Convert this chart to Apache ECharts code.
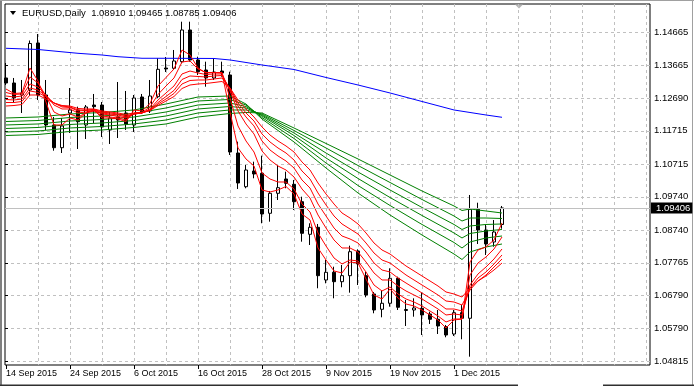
<!DOCTYPE html>
<html><head><meta charset="utf-8">
<script src="https://cdn.jsdelivr.net/npm/echarts@6/dist/echarts.min.js"></script>
<style>html,body{margin:0;padding:0;background:#fff}#c{width:694px;height:386px}</style>
</head><body><div id="c"></div>
<script>
const dates = ['14 Sep 2015','15 Sep 2015','16 Sep 2015','17 Sep 2015','18 Sep 2015','21 Sep 2015','22 Sep 2015','23 Sep 2015','24 Sep 2015','25 Sep 2015','28 Sep 2015','29 Sep 2015','30 Sep 2015','1 Oct 2015','2 Oct 2015','5 Oct 2015','6 Oct 2015','7 Oct 2015','8 Oct 2015','9 Oct 2015','12 Oct 2015','13 Oct 2015','14 Oct 2015','15 Oct 2015','16 Oct 2015','19 Oct 2015','20 Oct 2015','21 Oct 2015','22 Oct 2015','23 Oct 2015','26 Oct 2015','27 Oct 2015','28 Oct 2015','29 Oct 2015','30 Oct 2015','2 Nov 2015','3 Nov 2015','4 Nov 2015','5 Nov 2015','6 Nov 2015','9 Nov 2015','10 Nov 2015','11 Nov 2015','12 Nov 2015','13 Nov 2015','16 Nov 2015','17 Nov 2015','18 Nov 2015','19 Nov 2015','20 Nov 2015','23 Nov 2015','24 Nov 2015','25 Nov 2015','26 Nov 2015','27 Nov 2015','30 Nov 2015','1 Dec 2015','2 Dec 2015','3 Dec 2015','4 Dec 2015','7 Dec 2015','8 Dec 2015','9 Dec 2015'];
const opens = [1.13297,1.13147,1.12788,1.12938,1.14345,1.12788,1.11890,1.11210,1.12249,1.12339,1.11890,1.12488,1.12488,1.11740,1.12129,1.12249,1.11890,1.12728,1.12309,1.12737,1.13596,1.13587,1.13785,1.14734,1.13836,1.13536,1.13297,1.13506,1.13387,1.11051,1.10042,1.10512,1.10444,1.09246,1.09845,1.10273,1.10114,1.09593,1.08617,1.08827,1.07249,1.07480,1.07198,1.07378,1.08117,1.07378,1.06830,1.06372,1.06552,1.07300,1.06336,1.06351,1.06402,1.06231,1.06073,1.05851,1.05632,1.06270,1.06103,1.09366,1.08746,1.08387,1.08910];
const closes = [1.13147,1.12698,1.12848,1.14330,1.12788,1.11890,1.11210,1.11860,1.12339,1.11988,1.12429,1.12438,1.11830,1.12099,1.12039,1.11920,1.12698,1.12279,1.12758,1.13557,1.13566,1.13806,1.14734,1.13836,1.13485,1.13297,1.13476,1.13447,1.11081,1.10153,1.10542,1.10423,1.09225,1.09845,1.10013,1.10144,1.09593,1.08647,1.08827,1.07378,1.07480,1.07198,1.07378,1.08096,1.07728,1.06800,1.06351,1.06552,1.07300,1.06432,1.06366,1.06411,1.06201,1.06073,1.05872,1.05602,1.06270,1.06103,1.09366,1.08746,1.08327,1.08686,1.09406];
const lows = [1.13087,1.12578,1.12249,1.12758,1.12638,1.11740,1.11120,1.11051,1.11650,1.11171,1.11471,1.11950,1.11530,1.11321,1.11500,1.11740,1.11680,1.12219,1.12249,1.12698,1.13476,1.13536,1.13737,1.13785,1.13387,1.13036,1.13237,1.13336,1.10992,1.09974,1.09995,1.10294,1.08947,1.08995,1.09644,1.09995,1.09345,1.08396,1.08297,1.07001,1.07150,1.06701,1.07031,1.06869,1.07099,1.06731,1.06252,1.06132,1.06450,1.06351,1.05872,1.06150,1.05602,1.05932,1.05632,1.05534,1.05573,1.05474,1.04953,1.08327,1.07998,1.08246,1.08785];
const highs = [1.13746,1.13297,1.13237,1.14419,1.14614,1.13237,1.12129,1.12099,1.12997,1.12438,1.12488,1.12818,1.12578,1.12279,1.13177,1.12908,1.12788,1.12818,1.13237,1.13887,1.13925,1.14135,1.14982,1.14982,1.13934,1.13785,1.13887,1.13785,1.13485,1.11390,1.10692,1.10791,1.10971,1.09914,1.10692,1.10492,1.10243,1.09743,1.08947,1.08926,1.07848,1.07647,1.07698,1.08276,1.08168,1.07498,1.06890,1.06929,1.07599,1.07348,1.06650,1.06701,1.06869,1.06300,1.06351,1.05902,1.06351,1.06501,1.09794,1.09563,1.08896,1.09045,1.09465];

// short-term EMAs (red), one value per bar
const ema3 = [1.12967,1.12833,1.12848,1.13596,1.13207,1.12578,1.11890,1.11890,1.12099,1.12039,1.12249,1.12339,1.12099,1.12099,1.12069,1.11994,1.12339,1.12309,1.12533,1.13057,1.13312,1.13566,1.14135,1.13985,1.13596,1.13446,1.13461,1.13446,1.12279,1.11201,1.10872,1.10662,1.09944,1.09884,1.09944,1.10048,1.09824,1.09225,1.09045,1.08207,1.07848,1.07519,1.07459,1.07788,1.07758,1.07279,1.06800,1.06680,1.06980,1.06710,1.06531,1.06471,1.06351,1.06201,1.06052,1.05812,1.06052,1.06081,1.07788,1.08147,1.08237,1.08447,1.08956];
const ema5 = [1.12863,1.12803,1.12818,1.13327,1.13147,1.12758,1.12279,1.12159,1.12219,1.12129,1.12249,1.12309,1.12159,1.12129,1.12099,1.12039,1.12249,1.12264,1.12429,1.12803,1.13057,1.13297,1.13776,1.13806,1.13566,1.13461,1.13461,1.13461,1.12698,1.11860,1.11411,1.11081,1.10453,1.10273,1.10183,1.10183,1.09974,1.09524,1.09285,1.08656,1.08267,1.07908,1.07728,1.07848,1.07818,1.07489,1.07099,1.06920,1.07040,1.06830,1.06680,1.06590,1.06471,1.06321,1.06171,1.05992,1.06081,1.06081,1.07399,1.07758,1.07938,1.08177,1.08536];
const ema8 = [1.12758,1.12728,1.12758,1.13117,1.13027,1.12788,1.12488,1.12369,1.12369,1.12249,1.12279,1.12324,1.12219,1.12189,1.12144,1.12099,1.12219,1.12249,1.12369,1.12638,1.12848,1.13057,1.13417,1.13506,1.13446,1.13402,1.13417,1.13417,1.12908,1.12309,1.11920,1.11620,1.11111,1.10842,1.10662,1.10542,1.10333,1.09974,1.09704,1.09195,1.08806,1.08447,1.08207,1.08207,1.08087,1.07788,1.07459,1.07249,1.07249,1.07069,1.06920,1.06800,1.06680,1.06531,1.06381,1.06201,1.06231,1.06201,1.07099,1.07429,1.07638,1.07878,1.08177];
const ema10 = [1.12653,1.12638,1.12668,1.12997,1.12937,1.12758,1.12548,1.12429,1.12414,1.12309,1.12324,1.12339,1.12249,1.12219,1.12189,1.12129,1.12219,1.12249,1.12339,1.12563,1.12743,1.12923,1.13252,1.13357,1.13342,1.13327,1.13357,1.13372,1.12967,1.12458,1.12129,1.11860,1.11411,1.11141,1.10962,1.10812,1.10602,1.10243,1.10003,1.09524,1.09165,1.08806,1.08566,1.08477,1.08357,1.08087,1.07758,1.07548,1.07489,1.07309,1.07159,1.07010,1.06860,1.06710,1.06560,1.06381,1.06381,1.06321,1.07010,1.07309,1.07489,1.07728,1.07998];
const ema12 = [1.12563,1.12563,1.12593,1.12908,1.12863,1.12728,1.12548,1.12458,1.12429,1.12339,1.12339,1.12354,1.12279,1.12249,1.12219,1.12159,1.12219,1.12249,1.12324,1.12518,1.12668,1.12833,1.13117,1.13222,1.13237,1.13237,1.13267,1.13297,1.12997,1.12548,1.12249,1.12009,1.11620,1.11381,1.11201,1.11051,1.10842,1.10512,1.10273,1.09854,1.09495,1.09165,1.08926,1.08776,1.08626,1.08357,1.08057,1.07848,1.07758,1.07578,1.07399,1.07249,1.07099,1.06950,1.06800,1.06620,1.06590,1.06501,1.06950,1.07219,1.07399,1.07638,1.07878];
const ema15 = [1.12458,1.12473,1.12503,1.12788,1.12788,1.12668,1.12548,1.12473,1.12458,1.12384,1.12369,1.12369,1.12309,1.12279,1.12249,1.12204,1.12249,1.12264,1.12324,1.12473,1.12608,1.12743,1.12982,1.13087,1.13117,1.13132,1.13162,1.13192,1.12997,1.12638,1.12369,1.12129,1.11830,1.11590,1.11411,1.11261,1.11081,1.10782,1.10542,1.10153,1.09824,1.09524,1.09255,1.09105,1.08926,1.08656,1.08357,1.08147,1.08027,1.07848,1.07668,1.07519,1.07369,1.07219,1.07069,1.06890,1.06830,1.06740,1.07010,1.07219,1.07369,1.07549,1.07758];

// long-term EMAs (green), read at these bars
const longIdx = [0,4,8,12,16,20,24,28,30,32,36,40,44,48,52,56,57,58,60,62];
const ema30 = [1.12099,1.12129,1.12219,1.12264,1.12339,1.12518,1.12728,1.12758,1.12518,1.12069,1.11381,1.10602,1.09854,1.09195,1.08596,1.08027,1.07863,1.08087,1.08237,1.08327];
const ema35 = [1.11994,1.12024,1.12114,1.12159,1.12234,1.12399,1.12608,1.12653,1.12488,1.12114,1.11485,1.10752,1.10078,1.09480,1.08911,1.08372,1.08207,1.08387,1.08507,1.08566];
const ema40 = [1.11890,1.11920,1.12009,1.12054,1.12129,1.12279,1.12488,1.12548,1.12443,1.12159,1.11575,1.10902,1.10288,1.09719,1.09180,1.08656,1.08507,1.08641,1.08716,1.08761];
const ema45 = [1.11785,1.11815,1.11905,1.11950,1.12024,1.12159,1.12369,1.12443,1.12399,1.12189,1.11650,1.11051,1.10482,1.09944,1.09420,1.08911,1.08761,1.08866,1.08911,1.08926];
const ema50 = [1.11680,1.11710,1.11800,1.11845,1.11920,1.12039,1.12249,1.12339,1.12339,1.12219,1.11725,1.11201,1.10677,1.10168,1.09659,1.09165,1.09015,1.09105,1.09105,1.09090];
const ema60 = [1.11575,1.11605,1.11695,1.11740,1.11815,1.11920,1.12129,1.12234,1.12264,1.12249,1.11800,1.11336,1.10872,1.10393,1.09914,1.09465,1.09330,1.09375,1.09315,1.09255];

// slow moving average (blue), read at these bars
const slowIdx = [0,4,7,9,12,14,17,20,26,28,32,36,40,44,48,52,56,60,62];
const slowMA = [1.14186,1.14150,1.14081,1.14036,1.13985,1.13934,1.13887,1.13887,1.13881,1.13836,1.13686,1.13551,1.13312,1.13087,1.12848,1.12593,1.12339,1.12189,1.12120];

const yTickLabels = ['1.14665','1.13665','1.12690','1.11715','1.10715','1.09740','1.08740','1.07765','1.06790','1.05790','1.04815'];
const yMin = 1.04704, yMax = 1.15512;

const FONT = '"Liberation Sans", Arial, sans-serif';
const n = dates.length;
const last = n - 1;
const cats = dates.concat(Array.from({length: 18}, (_, k) => '_pad' + k));
const ohlc = dates.map((d, i) => [opens[i], closes[i], lows[i], highs[i]]);
const yTickVals = yTickLabels.map(Number);
const pairs = (idx, vals) => idx.map((k, j) => [k, vals[j]]);
const labelEvery = (i) => i % 8 === 0 && i < n;
const gridEvery = (i) => i % 4 === 0 && i > 0;
const titleText = 'EURUSD,Daily  ' + [opens[last], highs[last], lows[last], closes[last]].map(v => v.toFixed(5)).join(' ');

const line = (data, color) => ({
  type: 'line', data, xAxisIndex: 0, yAxisIndex: 0, symbol: 'none', showSymbol: false,
  connectNulls: true, silent: true, z: 3, clip: false,
  lineStyle: {color, width: 1}
});

const chart = echarts.init(document.getElementById('c'), null, {renderer: 'canvas'});
chart.setOption({
  animation: false,
  backgroundColor: '#fff',
  title: {text: titleText, left: 22, top: 8, padding: 0,
    textStyle: {fontFamily: FONT, fontSize: 9.5, fontWeight: 'normal', color: '#000'}},
  grid: [
    {left: 6, right: 48, top: 4, bottom: 21, show: false},
    {left: 5, right: 44, top: 4, bottom: 21, show: true, borderColor: '#000', borderWidth: 1, backgroundColor: 'transparent'}
  ],
  xAxis: [
    {type: 'category', gridIndex: 0, data: cats, boundaryGap: false,
     axisLine: {show: false},
     axisTick: {show: true, interval: labelEvery, length: 4, lineStyle: {color: '#000'}},
     axisLabel: {show: true, interval: labelEvery, align: 'left', margin: 4, fontSize: 9, fontFamily: FONT, color: '#000'},
     splitLine: {show: true, interval: gridEvery, lineStyle: {color: '#c0c0c0', type: [3, 3], width: 1}}},
    {type: 'value', gridIndex: 1, min: 0, max: 1, show: false}
  ],
  yAxis: [
    {type: 'value', gridIndex: 0, min: yMin, max: yMax, show: false},
    {type: 'value', gridIndex: 1, position: 'right', min: yMin, max: yMax,
     axisLine: {show: false},
     axisTick: {show: true, customValues: yTickVals, length: 3, lineStyle: {color: '#000'}},
     axisLabel: {show: true, customValues: yTickVals, formatter: (v) => v.toFixed(5), margin: 4, fontSize: 9.5, fontFamily: FONT, color: '#000'},
     splitLine: {show: true, lineStyle: {color: '#c0c0c0', type: [3, 3], width: 1}}}
  ],
  series: [
    {type: 'candlestick', data: ohlc, xAxisIndex: 0, yAxisIndex: 0, barWidth: 4, clip: false, silent: true, z: 2,
     itemStyle: {color: '#fff', color0: '#000', borderColor: '#000', borderColor0: '#000', borderWidth: 1}},
    line(pairs(slowIdx, slowMA), '#0000ff'),
    line(pairs(longIdx, ema30), '#008000'),
    line(pairs(longIdx, ema35), '#008000'),
    line(pairs(longIdx, ema40), '#008000'),
    line(pairs(longIdx, ema45), '#008000'),
    line(pairs(longIdx, ema50), '#008000'),
    line(pairs(longIdx, ema60), '#008000'),
    line(ema3, '#ff0000'),
    line(ema5, '#ff0000'),
    line(ema8, '#ff0000'),
    line(ema10, '#ff0000'),
    line(ema12, '#ff0000'),
    line(ema15, '#ff0000'),
    {type: 'line', xAxisIndex: 1, yAxisIndex: 1, data: [], silent: true,
     markLine: {silent: true, animation: false, symbol: ['none', 'none'], precision: 5,
       lineStyle: {color: '#c0c0c0', type: 'solid', width: 1},
       label: {show: true, position: 'end', distance: 1, formatter: closes[last].toFixed(5),
         color: '#fff', backgroundColor: '#000', padding: [1, 2, 0, 5], lineHeight: 10,
         fontSize: 9.5, fontFamily: FONT},
       data: [{yAxis: closes[last]}]}}
  ],
  graphic: [
    {type: 'polygon', silent: true, shape: {points: [[10, 11], [16, 11], [13, 15]]}, style: {fill: '#000'}},
    {type: 'polygon', silent: true, shape: {points: [[515, 4.5], [523, 4.5], [519, 8.5]]}, style: {fill: '#b4b4b4'}},
    {type: 'rect', silent: true, shape: {x: 0, y: 0, width: 2, height: 386}, style: {fill: '#808080'}},
    {type: 'rect', silent: true, shape: {x: 0, y: 0, width: 694, height: 1}, style: {fill: '#a0a0a0'}},
    {type: 'rect', silent: true, shape: {x: 692, y: 0, width: 1, height: 386}, style: {fill: '#a0a0a0'}},
    {type: 'rect', silent: true, shape: {x: 0, y: 384.5, width: 518, height: 1.5}, style: {fill: '#303030'}},
    {type: 'rect', silent: true, shape: {x: 603, y: 384.5, width: 91, height: 1.5}, style: {fill: '#303030'}}
  ]
});
</script></body></html>
